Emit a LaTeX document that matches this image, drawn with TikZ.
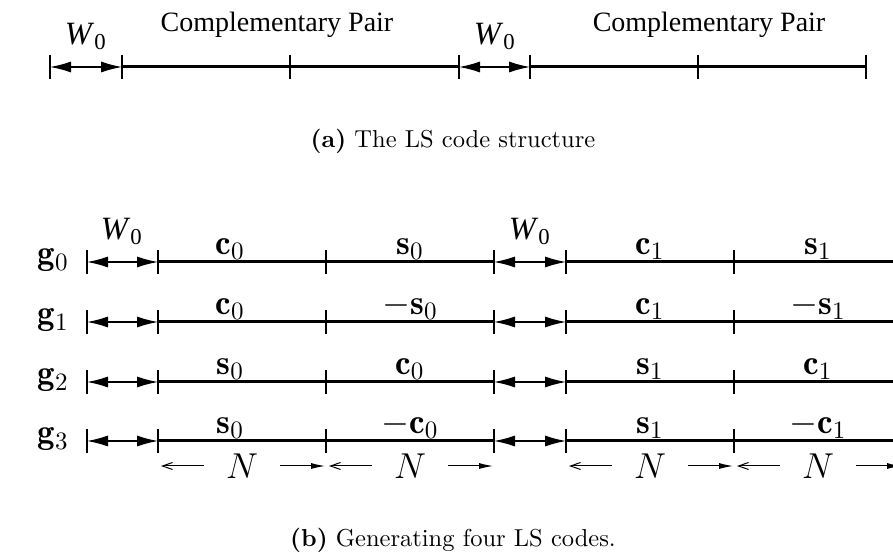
\documentclass[tikz,border=0pt]{standalone}
\usepackage{amsmath,amssymb}
\usepackage{fontspec}
\newfontfamily\timesfont{Liberation Serif}
\usetikzlibrary{arrows.meta,positioning}

\begin{document}
\begin{tikzpicture}[x=0.4pt,y=-0.4pt,
    seg/.style={line width=1.2pt},
    tick/.style={line width=0.5pt},
    wgap/.style={line width=0.5pt,
      {Latex[length=8.4pt,width=4.4pt]}-{Latex[length=8.4pt,width=4.4pt]}},
    larr/.style={line width=0.4pt,-{Straight Barb[length=4pt,width=2.8pt]},
      shorten >=1.2pt},
    rarr/.style={line width=0.4pt,-{Latex[length=5.6pt,width=2.4pt]},
      shorten >=0.4pt},
    pair/.style={font=\timesfont\fontsize{11.2}{13}\selectfont,inner sep=0pt},
    wlbl/.style={font=\timesfont\fontsize{13}{15}\selectfont,inner sep=0pt},
    code/.style={font=\fontsize{14}{16}\selectfont,inner sep=0pt},
    nlbl/.style={font=\fontsize{13.5}{15}\selectfont,inner xsep=8.6pt,inner ysep=0pt},
    capt/.style={font=\fontsize{9.8}{12}\selectfont,inner sep=0pt}]
\useasboundingbox (0,0) rectangle (893,558);

% (a) structure
\foreach \i/\x in {0/50,1/122,2/290,3/459,4/530,5/698,6/866}
  \coordinate (a\i) at (\x,67);
\draw[seg] (a1) -- (a3);
\draw[seg] (a4) -- (a6);
\draw[wgap] (a0) -- (a1);
\draw[wgap] (a3) -- (a4);
\foreach \i in {0,...,6}
  \draw[tick] (a\i) ++(0,-12) -- ++(0,24);
\node[wlbl,anchor=base] (wa0) at (86,45) {\textit{W}\textsubscript{0}};
\node[wlbl,anchor=base] (wa1) at (495,45) {\textit{W}\textsubscript{0}};
\node[pair,anchor=base] (pa0) at (277,32) {Complementary Pair};
\node[pair,anchor=base] (pa1) at (709,32) {Complementary Pair};
\node[capt,anchor=base] (capa) at (453,148) {\textbf{(a)} The LS code structure};

% (b) four codes
\foreach \r/\y/\la/\lb/\lc/\ld in {
    0/262/\mathbf{c}_0/\mathbf{s}_0/\mathbf{c}_1/\mathbf{s}_1,
    1/322/\mathbf{c}_0/-\mathbf{s}_0/\mathbf{c}_1/-\mathbf{s}_1,
    2/382/\mathbf{s}_0/\mathbf{c}_0/\mathbf{s}_1/\mathbf{c}_1,
    3/441/\mathbf{s}_0/-\mathbf{c}_0/\mathbf{s}_1/-\mathbf{c}_1} {
  \foreach \i/\x in {0/87,1/158,2/326,3/494,4/566,5/734,6/902}
    \coordinate (b\r-\i) at (\x,\y);
  \draw[seg] (b\r-1) -- (b\r-3);
  \draw[seg] (b\r-4) -- (b\r-6);
  \draw[wgap] (b\r-0) -- (b\r-1);
  \draw[wgap] (b\r-3) -- (b\r-4);
  \foreach \i in {0,...,6}
    \draw[tick] (b\r-\i) ++(0,-12) -- ++(0,24);
  \node[code,anchor=base west] (g\r) at (37,\y+3) {$\mathbf{g}_\r$};
  \path (b\r-1) -- node[code,pos=0.43,anchor=base,yshift=3pt] (l\r-0) {$\la$} (b\r-2);
  \path (b\r-2) -- node[code,anchor=base,yshift=3pt] (l\r-1) {$\lb$} (b\r-3);
  \path (b\r-4) -- node[code,anchor=base,yshift=3pt] (l\r-2) {$\lc$} (b\r-5);
  \path (b\r-5) -- node[code,anchor=base,yshift=3pt] (l\r-3) {$\ld$} (b\r-6);
}
\node[wlbl,anchor=base] (wb0) at (122,240) {\textit{W}\textsubscript{0}};
\node[wlbl,anchor=base] (wb1) at (530,240) {\textit{W}\textsubscript{0}};

% lengths N
\foreach \j/\xa/\xb in {0/158/326,1/326/494,2/566/734,3/734/902} {
  \coordinate (na\j) at (\xa,466);
  \coordinate (nb\j) at (\xb,466);
  \node[nlbl] (n\j) at ({(\xa+\xb)/2},466) {$N$};
  \draw[larr] (n\j.west) -- (na\j);
  \draw[rarr] (n\j.east) -- (nb\j);
}
\node[capt,anchor=base] (capb) at (453,546) {\textbf{(b)} Generating four LS codes.};
\end{tikzpicture}
\end{document}
